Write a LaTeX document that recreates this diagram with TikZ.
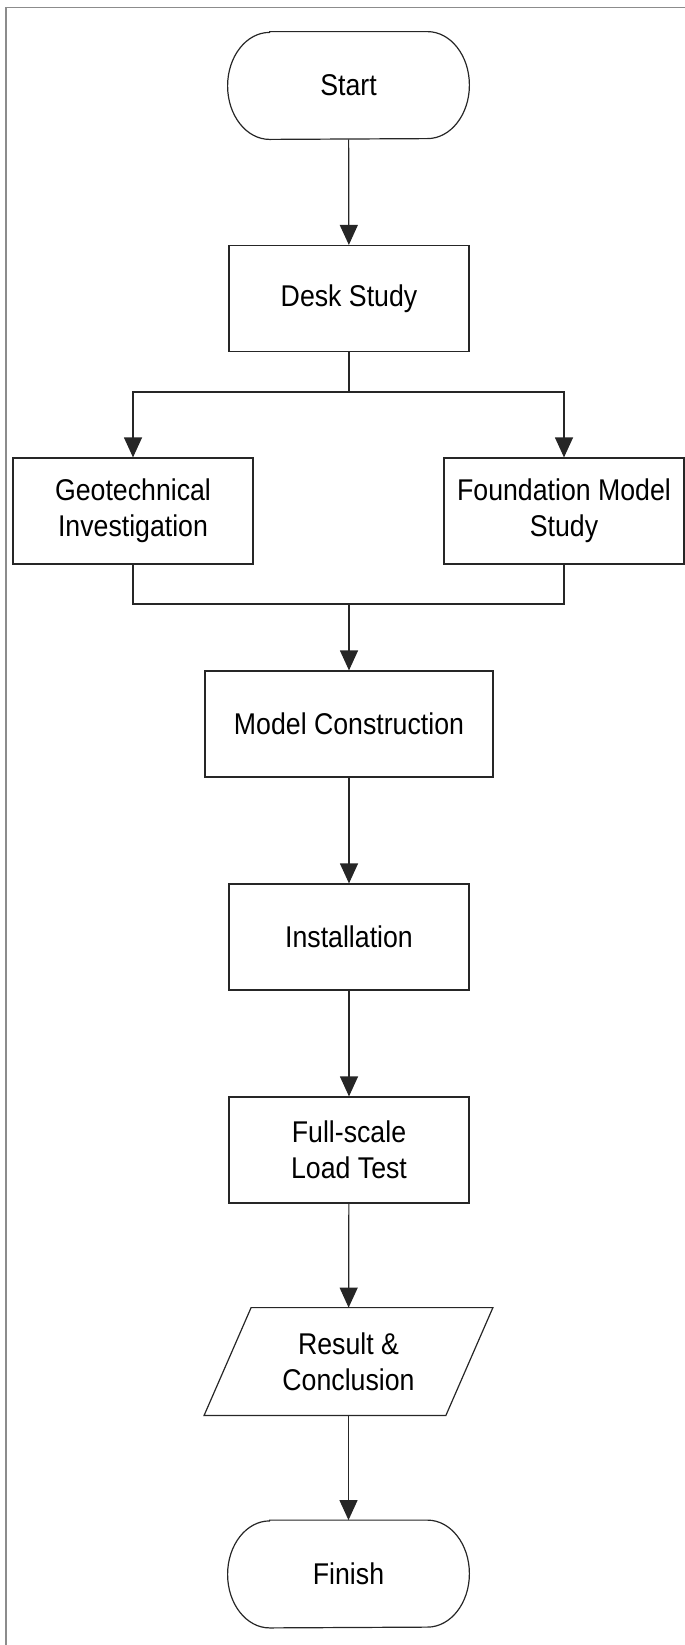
\documentclass[tikz,border=0pt]{standalone}
\usepackage{fontspec}
\setmainfont{Liberation Sans}[FakeStretch=0.89]
\usetikzlibrary{arrows.meta}

\begin{document}
\begin{tikzpicture}[
                x=0.5pt, y=0.5pt,
                flowLine/.style={draw=black!85,line width=0.6pt},
                flowArrow/.style={flowLine,-{Triangle[width=9pt,length=10pt]}},
                flowFrame/.style={draw=black!45,line width=0.9pt},
                flowBox/.style={draw=black!85,line width=0.6pt,inner sep=0pt,align=center,
                                minimum width=120pt,minimum height=53pt},
                flowPlain/.style={inner sep=0pt,align=center,
                                  minimum width=120.5pt,minimum height=53.5pt},
                every node/.style={font=\fontsize{15pt}{17.8pt}\selectfont}]
                \useasboundingbox (0,0) rectangle (685,-1645);
                % Page frame (left and top only).
                \draw[flowFrame] (6,-1645) -- (6,-7.5) -- (685,-7.5);

                % Terminal: start.
                \node[flowPlain] (start) at (348.5,-85.5) {Start};
                \draw[flowLine] ([xshift=21pt]start.north west) -- ([xshift=-21pt]start.north east)
                    arc[start angle=90,end angle=-90,x radius=21pt,y radius=26.75pt]
                    -- ([xshift=21pt]start.south west)
                    arc[start angle=270,end angle=90,x radius=21pt,y radius=26.75pt] -- cycle;

                % Process boxes.
                \node[flowBox] (desk) at (349,-298.5) {Desk Study};
                \node[flowBox] (geo) at (133,-511) {Geotechnical\\Investigation};
                \node[flowBox] (found) at (564,-511) {Foundation Model\\Study};
                \node[flowBox,minimum width=144pt] (model) at (349,-724) {Model Construction};
                \node[flowBox] (install) at (349,-937) {Installation};
                \node[flowBox] (loadtest) at (349,-1150) {Full-scale\\Load Test};

                % Data: result.
                \node[flowPlain] (result) at (348.5,-1361.5) {Result \&\\Conclusion};
                \draw[flowLine] ([xshift=-11.75pt]result.south west) -- ([xshift=11.75pt]result.north west)
                    -- ([xshift=11.75pt]result.north east) -- ([xshift=-11.75pt]result.south east) -- cycle;

                % Terminal: finish.
                \node[flowPlain] (finish) at (348.5,-1574) {Finish};
                \draw[flowLine] ([xshift=21pt]finish.north west) -- ([xshift=-21pt]finish.north east)
                    arc[start angle=90,end angle=-90,x radius=21pt,y radius=26.75pt]
                    -- ([xshift=21pt]finish.south west)
                    arc[start angle=270,end angle=90,x radius=21pt,y radius=26.75pt] -- cycle;

                % Connectors.
                \coordinate (split) at (349,-392);
                \coordinate (merge) at (349,-604);
                \draw[flowArrow] (start) -- (desk);
                \draw[flowLine] (desk) -- (split);
                \draw[flowArrow] (split) -| (geo);
                \draw[flowArrow] (split) -| (found);
                \draw[flowLine] (geo) |- (merge);
                \draw[flowLine] (found) |- (merge);
                \draw[flowArrow] (merge) -- (model);
                \draw[flowArrow] (model) -- (install);
                \draw[flowArrow] (install) -- (loadtest);
                \draw[flowArrow] (loadtest) -- (result);
                \draw[flowArrow] (result) -- (finish);

            \end{tikzpicture}
\end{document}
